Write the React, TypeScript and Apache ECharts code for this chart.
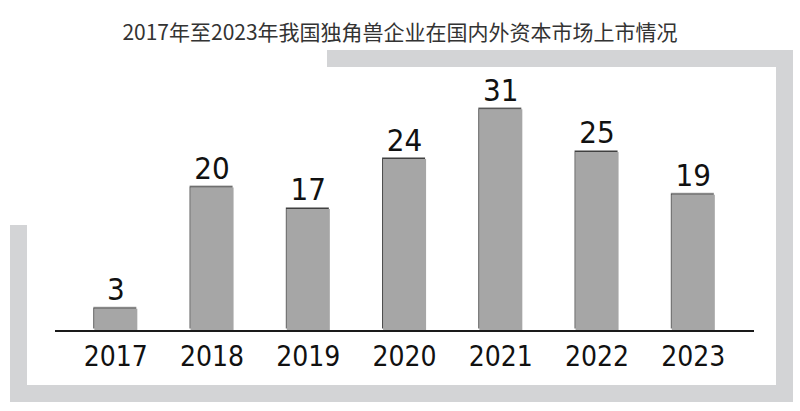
import React, { useEffect, useRef } from "react";
import * as echarts from "echarts";

const titleText = "2017年至2023年我国独角兽企业在国内外资本市场上市情况";
const years = ["2017", "2018", "2019", "2020", "2021", "2022", "2023"];
const listings = [3, 20, 17, 24, 31, 25, 19];

const numFont = '"Liberation Sans Narrow", "DejaVu Sans Condensed", "Liberation Sans", sans-serif';
const frameColor = "#d3d4d6";

export default function App() {
  const ref = useRef<HTMLDivElement>(null);
  useEffect(() => {
    if (!ref.current) return;
    const chart = echarts.init(ref.current, null, { renderer: "svg" });
    chart.setOption({
      animation: false,
      backgroundColor: "#ffffff",
      title: {
        text: titleText,
        left: "center",
        top: 15,
        textStyle: {
          fontFamily: '"Noto Sans CJK SC", sans-serif',
          fontSize: 21,
          fontWeight: "normal",
          color: "#333333",
        },
      },
      graphic: [
        { type: "rect", shape: { x: 327, y: 50, width: 466, height: 17 }, style: { fill: frameColor }, z: -10 },
        { type: "rect", shape: { x: 776, y: 50, width: 17, height: 352 }, style: { fill: frameColor }, z: -10 },
        { type: "rect", shape: { x: 10, y: 385, width: 783, height: 17 }, style: { fill: frameColor }, z: -10 },
        { type: "rect", shape: { x: 10, y: 225, width: 17, height: 177 }, style: { fill: frameColor }, z: -10 },
        { type: "line", shape: { x1: 55, y1: 331, x2: 754, y2: 331 }, style: { stroke: "#1a1a1a", lineWidth: 2 }, z: 10 },
      ],
      grid: { left: 67.7, width: 673.75, top: 45, height: 285 },
      xAxis: {
        type: "category",
        data: years,
        axisLine: { show: false },
        axisTick: { show: false },
        axisLabel: {
          margin: 12,
          fontFamily: numFont,
          fontSize: 28,
          color: "#111111",
        },
      },
      yAxis: {
        type: "value",
        min: 0,
        max: 40,
        show: false,
        splitLine: { show: false },
      },
      series: [
        {
          type: "bar",
          data: listings,
          barWidth: 43,
          itemStyle: {
            color: "#a6a6a6",
            shadowColor: "rgba(0,0,0,0.75)",
            shadowOffsetX: -1,
            shadowOffsetY: -1.5,
            shadowBlur: 1,
          },
          label: {
            show: true,
            position: "top",
            distance: 4,
            fontFamily: numFont,
            fontSize: 31,
            color: "#111111",
          },
        },
      ],
    });
    return () => chart.dispose();
  }, []);
  return (
    <div
      ref={ref}
      style={{ position: "fixed", left: 0, top: 0, width: 800, height: 411 }}
    />
  );
}
